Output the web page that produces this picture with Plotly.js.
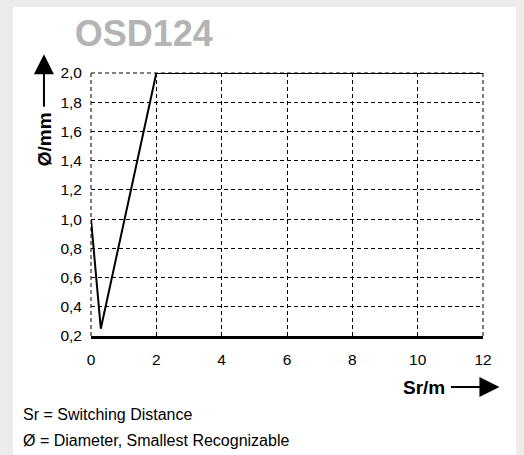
<!DOCTYPE html>
<html>
<head>
<meta charset="utf-8">
<script src="https://cdn.plot.ly/plotly-3.0.1.min.js"></script>
<style>
html,body{margin:0;padding:0;background:#ececec;width:524px;height:455px;overflow:hidden;}
#chart{position:absolute;left:13px;top:7px;width:503px;height:448px;background:#fff;}
</style>
</head>
<body>
<div id="chart"></div>
<script>
const chartTitle = "OSD124";
const distance = [0, 0.3, 2, 12];
const diameter = [1.0, 0.25, 2.0, 2.0];
const xTicks = [0, 2, 4, 6, 8, 10, 12];
const yTicks = [0.2, 0.4, 0.6, 0.8, 1.0, 1.2, 1.4, 1.6, 1.8, 2.0];
const yTickText = ["0,2","0,4","0,6","0,8","1,0","1,2","1,4","1,6","1,8","2,0"];
const xLabel = "Sr/m";
const yLabel = "Ø/mm";
const notes = ["Sr = Switching Distance", "Ø = Diameter, Smallest Recognizable"];

const font = "Liberation Sans, Arial, Helvetica, sans-serif";
const gridDash = "4px,3px";

const trace = {
  x: distance, y: diameter, type: "scatter", mode: "lines",
  line: {color: "#000", width: 2}, hoverinfo: "skip", cliponaxis: false
};

const edge = (x0, y0, x1, y1) => ({type: "line", xref: "paper", yref: "paper", x0, y0, x1, y1,
  line: {color: "#000", width: 1, dash: gridDash}, layer: "below"});

const layout = {
  width: 503, height: 448,
  margin: {l: 78, r: 33, t: 66, b: 119},
  paper_bgcolor: "#fff", plot_bgcolor: "#fff",
  showlegend: false,
  font: {family: font, color: "#000", size: 15},
  title: {text: "<b>" + chartTitle + "</b>", font: {family: font, size: 36, color: "#b4b4b4"},
          xref: "container", x: 0.26, xanchor: "center", yref: "container", y: 1 - 26/448, yanchor: "middle"},
  xaxis: {
    range: [0, 12], tickvals: xTicks, ticktext: xTicks.map(String),
    showgrid: true, gridcolor: "#000", gridwidth: 1, griddash: gridDash,
    zeroline: false, showline: true, linecolor: "#000", linewidth: 3,
    ticks: "", ticklabelstandoff: 7, tickfont: {size: 15.5, family: font}, fixedrange: true
  },
  yaxis: {
    range: [0.2, 2.0], tickvals: yTicks, ticktext: yTickText,
    showgrid: true, gridcolor: "#000", gridwidth: 1, griddash: gridDash,
    zeroline: false, showline: false, ticks: "", ticklabelstandoff: 8,
    tickfont: {size: 15.5, family: font}, fixedrange: true
  },
  shapes: [edge(0, 0, 0, 1), edge(1, 0, 1, 1), edge(0, 1, 1, 1)],
  annotations: [
    {xref: "paper", yref: "paper", x: -0.12, y: 1.071, ax: 0, ay: 54, axref: "pixel", ayref: "pixel",
     text: "", showarrow: true, arrowhead: 2, arrowsize: 2, arrowwidth: 2, arrowcolor: "#000"},
    {xref: "paper", yref: "paper", x: -0.12, y: 0.748, xanchor: "center", yanchor: "middle",
     text: "<b>" + yLabel + "</b>", textangle: -90,
     showarrow: false, font: {size: 19, family: font, color: "#000"}},
    {xref: "paper", yref: "paper", x: 0.850, y: -0.194, xanchor: "center", yanchor: "middle",
     text: "<b>" + xLabel + "</b>",
     showarrow: false, font: {size: 19, family: font, color: "#000"}},
    {xref: "paper", yref: "paper", x: 1.042, y: -0.194, ax: -50, ay: 0, axref: "pixel", ayref: "pixel",
     text: "", showarrow: true, arrowhead: 2, arrowsize: 2, arrowwidth: 2, arrowcolor: "#000"},
    {xref: "paper", yref: "paper", x: -0.179, y: -0.297, xanchor: "left", yanchor: "middle",
     text: notes[0], showarrow: false, font: {size: 16, family: font, color: "#000"}},
    {xref: "paper", yref: "paper", x: -0.179, y: -0.396, xanchor: "left", yanchor: "middle",
     text: notes[1], showarrow: false, font: {size: 16, family: font, color: "#000"}}
  ]
};

Plotly.newPlot("chart", [trace], layout, {displayModeBar: false, staticPlot: true});
</script>
</body>
</html>
